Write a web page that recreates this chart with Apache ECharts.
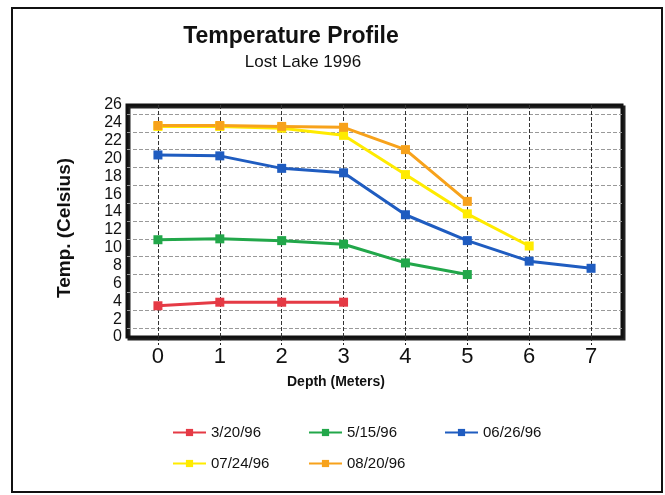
<!DOCTYPE html>
<html>
<head>
<meta charset="utf-8">
<script src="https://cdn.jsdelivr.net/npm/echarts@6/dist/echarts.min.js"></script>
<style>
  html, body { margin: 0; padding: 0; background: #fff; }
  #chart { width: 665px; height: 495px; }
</style>
</head>
<body>
<div id="chart"></div>
<script>
// depth in meters
const depths = ['0', '1', '2', '3', '4', '5', '6', '7']
// temperature readings per survey date
const dates = ['3/20/96', '5/15/96', '06/26/96', '07/24/96', '08/20/96']
const mar20 = [3.5, 3.9, 3.9, 3.9]
const may15 = [10.9, 11.0, 10.8, 10.4, 8.3, 7.0]
const jun26 = [20.4, 20.3, 18.9, 18.4, 13.7, 10.8, 8.5, 7.7]
const jul24 = [23.6, 23.6, 23.4, 22.6, 18.2, 13.8, 10.2]
const aug20 = [23.7, 23.7, 23.6, 23.5, 21.0, 15.2]
const colors = ['#e53a45', '#22a74a', '#1f5cc0', '#ffeb00', '#f7a21b']

const chart = echarts.init(document.getElementById('chart'))

const font = 'Liberation Sans, Arial, sans-serif'
const mkSeries = (name, data, i) => ({
    name,
    type: 'line',
    data,
    symbol: 'rect',
    symbolSize: 9,
    lineStyle: { width: 3, color: colors[i] },
    itemStyle: { color: colors[i] },
    emphasis: { disabled: true }
})

const legendBase = {
    orient: 'vertical',
    top: 425,
    padding: 0,
    itemWidth: 33,
    itemHeight: 9,
    itemGap: 16,
    textStyle: { fontFamily: font, fontSize: 15, color: '#111' }
}

const option = {
    backgroundColor: '#fff',
    animation: false,
    title: [
        {
            text: 'Temperature Profile',
            left: 291, top: 25, textAlign: 'center', padding: 0,
            textStyle: { fontFamily: font, fontSize: 23, fontWeight: 'bold', color: '#111' }
        },
        {
            text: 'Lost Lake 1996',
            left: 303, top: 54, textAlign: 'center', padding: 0,
            textStyle: { fontFamily: font, fontSize: 17, fontWeight: 'normal', color: '#111' }
        }
    ],
    legend: [
        { ...legendBase, left: 172, data: [dates[0], dates[3]] },
        { ...legendBase, left: 308, data: [dates[1], dates[4]] },
        { ...legendBase, left: 444, data: [dates[2]] }
    ],
    grid: {
        left: 127, right: 43, top: 105, bottom: 158,
        show: true,
        backgroundColor: '#fff',
        borderColor: '#111',
        borderWidth: 3,
        shadowColor: '#222',
        shadowOffsetX: 2,
        shadowOffsetY: 2
    },
    xAxis: {
        type: 'category',
        data: depths,
        boundaryGap: true,
        name: 'Depth (Meters)',
        nameLocation: 'middle',
        nameGap: 38,
        nameTextStyle: { fontFamily: font, fontSize: 14, fontWeight: 'bold', color: '#111', padding: [0, 77, 0, 0] },
        axisLine: { show: false },
        axisTick: { show: true, alignWithLabel: true, length: 8, lineStyle: { color: '#222', type: 'dashed' } },
        axisLabel: { fontFamily: font, fontSize: 22, color: '#111', margin: 9 },
        splitLine: { show: true, alignWithLabel: true, lineStyle: { color: '#333', type: 'dashed', width: 1 } }
    },
    yAxis: {
        type: 'value',
        min: 0,
        max: 26,
        interval: 2,
        name: 'Temp. (Celsius)',
        nameLocation: 'middle',
        nameGap: 53,
        nameTextStyle: { fontFamily: font, fontSize: 19, fontWeight: 'bold', color: '#111', padding: [0, 14, 0, 0] },
        axisLine: { show: false },
        axisTick: { show: false },
        axisLabel: { fontFamily: font, fontSize: 16, color: '#111', margin: 5 },
        splitLine: { show: false },
        minorTick: { show: false, splitNumber: 2 },
        minorSplitLine: { show: true, lineStyle: { color: '#999', type: 'dashed', width: 1 } }
    },
    series: [
        mkSeries(dates[0], mar20, 0),
        mkSeries(dates[1], may15, 1),
        mkSeries(dates[2], jun26, 2),
        mkSeries(dates[3], jul24, 3),
        mkSeries(dates[4], aug20, 4)
    ],
    graphic: [{
        type: 'rect',
        shape: { x: 12, y: 8, width: 650, height: 484 },
        style: { fill: 'none', stroke: '#111', lineWidth: 2 },
        silent: true
    }]
}

chart.setOption(option)
</script>
</body>
</html>
